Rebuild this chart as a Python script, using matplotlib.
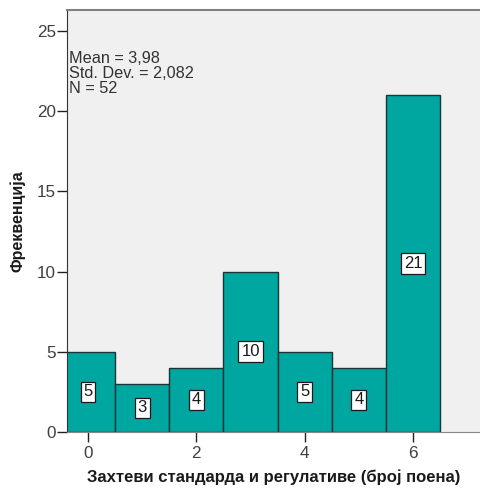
import matplotlib.pyplot as plt
import numpy as np

plt.rcParams['font.family'] = ['Liberation Sans', 'DejaVu Sans']

scores = [0, 1, 2, 3, 4, 5, 6]
counts = [5, 3, 4, 10, 5, 4, 21]
xlabel = "Захтеви стандарда и регулативе (број поена)"
ylabel = "Фреквенција"
stats = "Mean = 3,98\nStd. Dev. = 2,082\nN = 52"

fig = plt.figure(figsize=(4.8, 4.88), dpi=100)
ax = fig.add_axes([67/480, 56/488, 413/480, 422/488])
ax.set_facecolor('#f0f0f0')

ax.bar(scores, counts, width=1.0, color='#00a6a0', edgecolor='#1c3434', linewidth=1.0, zorder=2)

for x, c in zip(scores, counts):
    ax.text(x, c / 2, str(c), ha='center', va='center', fontsize=12, color='#1a1a1a', zorder=3,
            bbox=dict(boxstyle='square,pad=0.17', fc='white', ec='#1a1a1a', lw=0.9))

ax.text(0.004, 0.902, stats, transform=ax.transAxes, ha='left', va='top',
        fontsize=11.7, color='#333333', linespacing=1.0)

ax.set_xlim(-0.388, 7.237)
ax.set_ylim(0, 26.3)
ax.set_xticks([0, 2, 4, 6])
ax.set_yticks([0, 5, 10, 15, 20, 25])
ax.tick_params(axis='both', direction='out', length=7, width=1, color='#222222',
               labelsize=12.3, labelcolor='#404040')
ax.tick_params(axis='x', pad=3)
ax.tick_params(axis='y', pad=1)

ax.spines['right'].set_visible(False)
ax.spines['top'].set_color('#808080')
ax.spines['top'].set_linewidth(1.5)
ax.spines['left'].set_color('#333333')
ax.spines['bottom'].set_color('#888888')

ax.set_xlabel(xlabel, fontsize=12, fontweight='bold', color='#1a1a1a', labelpad=6)
ax.set_ylabel(ylabel, fontsize=11.5, fontweight='bold', color='#1a1a1a', labelpad=8)

fig.savefig('out.png', dpi=100)
